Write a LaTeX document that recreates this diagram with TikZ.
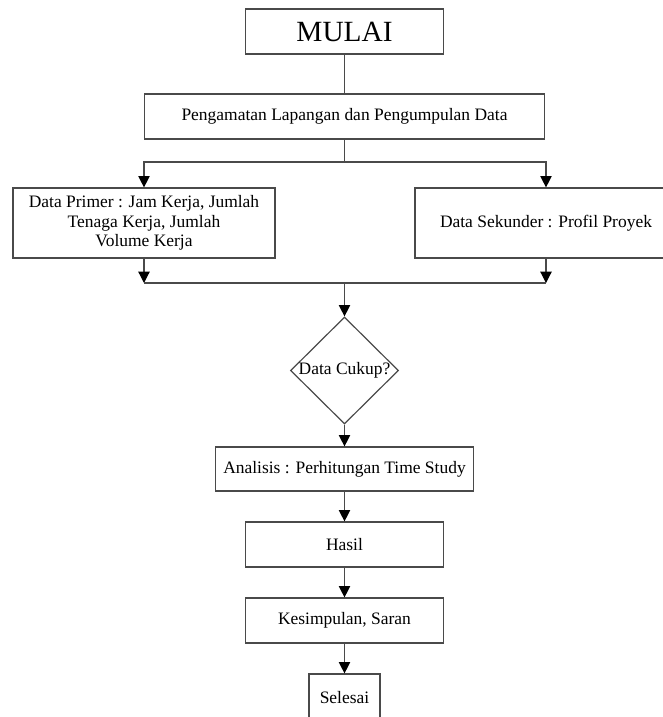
\documentclass[tikz,border=0pt]{standalone}
\usepackage{fontspec}
\setmainfont{Liberation Serif}
\usetikzlibrary{arrows.meta,shapes.geometric}
\definecolor{garis}{HTML}{4A4A4A}

\begin{document}
\begin{tikzpicture}[x=0.75pt,y=-0.75pt,>={Triangle[width=8.5pt,length=8.5pt,color=black]},
  kotak/.style={draw=garis,line width=0.9pt,rectangle,inner sep=2pt,align=center,
    font=\fontsize{13.1}{14.8}\selectfont,minimum height=33.75pt},
  belah/.style={draw=garis,line width=0.9pt,diamond,inner sep=0pt,
    minimum width=81pt,minimum height=80.25pt},
  alur/.style={draw=garis,line width=0.9pt}]
\useasboundingbox (0,0) rectangle (663,717);
% kotak-kotak
\node[kotak,minimum width=148.5pt,font=\fontsize{22}{26}\selectfont] (mulai) at (344.5,31.5) {MULAI};
\node[kotak,minimum width=300pt] (amat) at (344.5,116.5) {Pengamatan Lapangan dan Pengumpulan Data};
\node[kotak,minimum width=196.5pt,minimum height=52.5pt] (primer) at (144,223)
  {Data Primer : Jam Kerja, Jumlah\\Tenaga Kerja, Jumlah\\Volume Kerja};
\node[kotak,minimum width=196.5pt,minimum height=52.5pt] (sekunder) at (546,223) {Data Sekunder : Profil Proyek};
\node[belah,label=center:{\fontsize{13.1}{15}\selectfont Data Cukup?}] (cek) at (344.5,370.5) {};
\node[kotak,minimum width=193.5pt,minimum height=33pt] (analisis) at (344.5,469) {Analisis : Perhitungan Time Study};
\node[kotak,minimum width=148.5pt] (hasil) at (344.5,544.5) {Hasil};
\node[kotak,minimum width=148.5pt] (simpul) at (344.5,620.5) {Kesimpulan, Saran};
\node[kotak,minimum width=53.25pt,minimum height=36pt] (selesai) at (344.5,698) {Selesai};
% percabangan
\coordinate (pisah) at (344.5,162);
\coordinate (gabung) at (344.5,283);
\draw[alur] (mulai) -- (amat);
\draw[alur] (amat) -- (pisah);
\draw[alur,->] (pisah) -| (primer);
\draw[alur,->] (pisah) -| (sekunder);
\draw[alur,->] (primer) -- (primer |- gabung);
\draw[alur,->] (sekunder) -- (sekunder |- gabung);
\draw[alur] (primer |- gabung) -- (sekunder |- gabung);
\draw[alur,->] (gabung) -- (cek);
\draw[alur,->] (cek) -- (analisis);
\draw[alur,->] (analisis) -- (hasil);
\draw[alur,->] (hasil) -- (simpul);
\draw[alur,->] (simpul) -- (selesai);
\end{tikzpicture}
\end{document}
